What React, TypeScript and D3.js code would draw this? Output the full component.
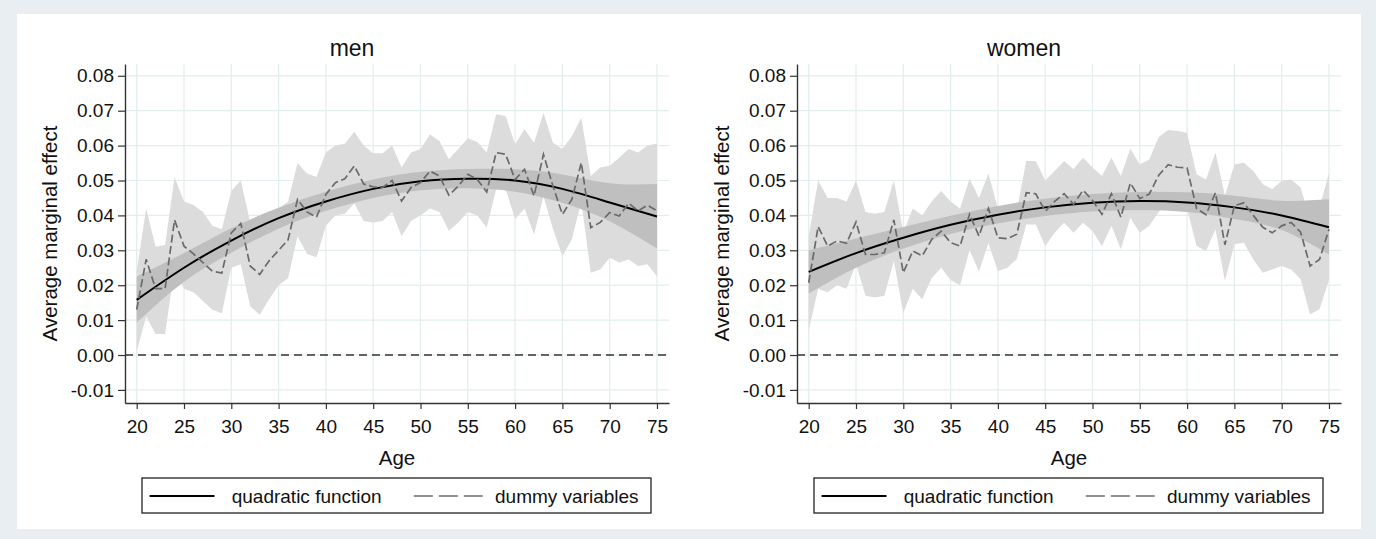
import React, { useRef, useEffect } from 'react';
import * as d3 from 'd3';

// ages with a dummy each
const ages = [20, 21, 22, 23, 24, 25, 26, 27, 28, 29, 30, 31, 32, 33, 34, 35, 36, 37, 38, 39,
  40, 41, 42, 43, 44, 45, 46, 47, 48, 49, 50, 51, 52, 53, 54, 55, 56, 57, 58, 59,
  60, 61, 62, 63, 64, 65, 66, 67, 68, 69, 70, 71, 72, 73, 74, 75];

const menDummy = [0.0130, 0.0274, 0.0190, 0.0190, 0.0387, 0.0312, 0.0290, 0.0265, 0.0240, 0.0235,
  0.0350, 0.0377, 0.0255, 0.0231, 0.0270, 0.0300, 0.0330, 0.0446, 0.0410, 0.0395,
  0.0460, 0.0494, 0.0505, 0.0542, 0.0490, 0.0482, 0.0480, 0.0500, 0.0441, 0.0480,
  0.0494, 0.0527, 0.0513, 0.0458, 0.0484, 0.0518, 0.0503, 0.0467, 0.0580, 0.0575,
  0.0503, 0.0532, 0.0456, 0.0575, 0.0484, 0.0403, 0.0446, 0.0551, 0.0365, 0.0380,
  0.0408, 0.0398, 0.0435, 0.0413, 0.0429, 0.0413];
const menDummyLo = [0.0010, 0.0110, 0.0060, 0.0060, 0.0250, 0.0190, 0.0180, 0.0155, 0.0130, 0.0120,
  0.0250, 0.0260, 0.0140, 0.0115, 0.0160, 0.0200, 0.0220, 0.0340, 0.0290, 0.0280,
  0.0370, 0.0400, 0.0405, 0.0435, 0.0384, 0.0380, 0.0384, 0.0410, 0.0340, 0.0384,
  0.0400, 0.0420, 0.0410, 0.0356, 0.0380, 0.0410, 0.0400, 0.0365, 0.0475, 0.0475,
  0.0390, 0.0420, 0.0345, 0.0455, 0.0362, 0.0284, 0.0331, 0.0440, 0.0236, 0.0245,
  0.0279, 0.0265, 0.0274, 0.0255, 0.0260, 0.0225];
const menDummyHi = [0.0240, 0.0420, 0.0310, 0.0315, 0.0510, 0.0440, 0.0430, 0.0410, 0.0370, 0.0360,
  0.0470, 0.0500, 0.0380, 0.0350, 0.0380, 0.0420, 0.0440, 0.0550, 0.0520, 0.0510,
  0.0580, 0.0600, 0.0605, 0.0640, 0.0600, 0.0578, 0.0578, 0.0600, 0.0537, 0.0580,
  0.0590, 0.0632, 0.0613, 0.0561, 0.0590, 0.0621, 0.0610, 0.0580, 0.0690, 0.0685,
  0.0604, 0.0647, 0.0608, 0.0694, 0.0608, 0.0590, 0.0627, 0.0680, 0.0513, 0.0537,
  0.0542, 0.0565, 0.0590, 0.0580, 0.0600, 0.0606];

const womenDummy = [0.0207, 0.0368, 0.0312, 0.0327, 0.0320, 0.0381, 0.0288, 0.0288, 0.0293, 0.0387,
  0.0236, 0.0298, 0.0284, 0.0331, 0.0355, 0.0322, 0.0312, 0.0403, 0.0341, 0.0420,
  0.0336, 0.0333, 0.0346, 0.0465, 0.0462, 0.0412, 0.0440, 0.0462, 0.0432, 0.0472,
  0.0443, 0.0403, 0.0462, 0.0395, 0.0493, 0.0448, 0.0461, 0.0515, 0.0545, 0.0538,
  0.0536, 0.0420, 0.0402, 0.0465, 0.0316, 0.0428, 0.0436, 0.0400, 0.0366, 0.0350,
  0.0370, 0.0380, 0.0352, 0.0255, 0.0274, 0.0360];
const womenDummyLo = [0.0070, 0.0190, 0.0180, 0.0200, 0.0190, 0.0260, 0.0170, 0.0165, 0.0170, 0.0270,
  0.0120, 0.0190, 0.0160, 0.0220, 0.0250, 0.0215, 0.0200, 0.0300, 0.0240, 0.0320,
  0.0241, 0.0250, 0.0275, 0.0374, 0.0374, 0.0312, 0.0350, 0.0379, 0.0350, 0.0379,
  0.0355, 0.0312, 0.0370, 0.0303, 0.0393, 0.0350, 0.0370, 0.0410, 0.0445, 0.0435,
  0.0420, 0.0312, 0.0298, 0.0360, 0.0212, 0.0317, 0.0322, 0.0274, 0.0236, 0.0245,
  0.0255, 0.0245, 0.0217, 0.0117, 0.0131, 0.0215];
const womenDummyHi = [0.0340, 0.0500, 0.0450, 0.0450, 0.0440, 0.0500, 0.0410, 0.0405, 0.0410, 0.0500,
  0.0350, 0.0420, 0.0400, 0.0440, 0.0470, 0.0440, 0.0420, 0.0505, 0.0450, 0.0520,
  0.0420, 0.0405, 0.0415, 0.0556, 0.0556, 0.0500, 0.0527, 0.0556, 0.0532, 0.0565,
  0.0537, 0.0513, 0.0565, 0.0513, 0.0591, 0.0546, 0.0560, 0.0625, 0.0645, 0.0642,
  0.0637, 0.0518, 0.0503, 0.0580, 0.0456, 0.0546, 0.0551, 0.0527, 0.0489, 0.0475,
  0.0499, 0.0503, 0.0480, 0.0390, 0.0422, 0.0522];

// quadratic fit, read every 5 years
const quadAges = [20, 25, 30, 35, 40, 45, 50, 55, 60, 65, 70, 75];
const menQuad = [0.0158, 0.0250, 0.0328, 0.0392, 0.0440, 0.0476, 0.0498, 0.0505, 0.0500, 0.0476, 0.0437, 0.0397];
const menQuadLo = [0.0093, 0.0210, 0.0293, 0.0362, 0.0413, 0.0450, 0.0472, 0.0478, 0.0468, 0.0436, 0.0383, 0.0305];
const menQuadHi = [0.0225, 0.0292, 0.0363, 0.0422, 0.0468, 0.0503, 0.0525, 0.0533, 0.0532, 0.0517, 0.0492, 0.0490];
const womenQuad = [0.0238, 0.0292, 0.0336, 0.0373, 0.0402, 0.0423, 0.0436, 0.0441, 0.0437, 0.0423, 0.0400, 0.0366];
const womenQuadLo = [0.0176, 0.0250, 0.0305, 0.0347, 0.0377, 0.0398, 0.0411, 0.0415, 0.0410, 0.0390, 0.0358, 0.0288];
const womenQuadHi = [0.0300, 0.0334, 0.0367, 0.0399, 0.0427, 0.0448, 0.0461, 0.0467, 0.0466, 0.0456, 0.0442, 0.0446];

const xTicks = [20, 25, 30, 35, 40, 45, 50, 55, 60, 65, 70, 75];
const yTicks = [-0.01, 0, 0.01, 0.02, 0.03, 0.04, 0.05, 0.06, 0.07, 0.08];

const panels = [
  { title: 'men', left: 125, dummy: menDummy, lo: menDummyLo, hi: menDummyHi, quad: menQuad, qlo: menQuadLo, qhi: menQuadHi },
  { title: 'women', left: 797, dummy: womenDummy, lo: womenDummyLo, hi: womenDummyHi, quad: womenQuad, qlo: womenQuadLo, qhi: womenQuadHi }
];

const FONT = "'Liberation Sans', Arial, sans-serif";

const App = () => {

  const ref = useRef(null);

  useEffect(() => {

    var svg = d3.select(ref.current);
    svg.selectAll('*').remove();

    var W = 1376, H = 539;
    var pw = 544, top = 64, bottom = 403;

    svg.append('rect').attr('width', W).attr('height', H).attr('fill', '#e8eef1');
    svg.append('rect').attr('x', 17).attr('y', 14).attr('width', 1344).attr('height', 515).attr('fill', '#ffffff');

    var x = d3.scaleLinear().domain([18.763, 76.27]).range([0, pw]);
    var y = d3.scaleLinear().domain([-0.01375, 0.08338]).range([bottom, top]);

    panels.forEach(function(p) {

      var g = svg.append('g').attr('transform', 'translate(' + p.left + ',0)');

      // grid
      g.selectAll('line.vgrid').data(xTicks).enter().append('line')
        .attr('x1', d => x(d)).attr('x2', d => x(d))
        .attr('y1', top).attr('y2', bottom)
        .attr('stroke', '#e2eded').attr('stroke-width', 1.2);
      g.selectAll('line.hgrid').data(yTicks).enter().append('line')
        .attr('x1', 0).attr('x2', pw)
        .attr('y1', d => y(d)).attr('y2', d => y(d))
        .attr('stroke', '#e2eded').attr('stroke-width', 1.2);

      // dummy CI
      var dummyRows = ages.map((a, i) => ({ a: a, v: p.dummy[i], lo: p.lo[i], hi: p.hi[i] }));
      var quadRows = quadAges.map((a, i) => ({ a: a, v: p.quad[i], lo: p.qlo[i], hi: p.qhi[i] }));

      g.append('path')
        .attr('d', d3.area().x(d => x(d.a)).y0(d => y(d.lo)).y1(d => y(d.hi))(dummyRows))
        .attr('fill', '#dcdcdc');

      g.append('path')
        .attr('d', d3.area().curve(d3.curveNatural).x(d => x(d.a)).y0(d => y(d.lo)).y1(d => y(d.hi))(quadRows))
        .attr('fill', '#bfbfbf');

      // zero line
      g.append('line')
        .attr('x1', 0).attr('x2', pw).attr('y1', y(0)).attr('y2', y(0))
        .attr('stroke', '#333').attr('stroke-width', 1.5).attr('stroke-dasharray', '8,5');

      g.append('path')
        .attr('d', d3.line().curve(d3.curveNatural).x(d => x(d.a)).y(d => y(d.v))(quadRows))
        .attr('fill', 'none').attr('stroke', '#000').attr('stroke-width', 2);

      g.append('path')
        .attr('d', d3.line().x(d => x(d.a)).y(d => y(d.v))(dummyRows))
        .attr('fill', 'none').attr('stroke', '#6a6a6a').attr('stroke-width', 1.7)
        .attr('stroke-dasharray', '8,3.5');

      // axes
      var ya = g.append('g')
        .call(d3.axisLeft(y).tickValues(yTicks).tickFormat(d => d.toFixed(2)).tickSize(7).tickSizeOuter(0).tickPadding(4));
      var xa = g.append('g').attr('transform', 'translate(0,' + bottom + ')')
        .call(d3.axisBottom(x).tickValues(xTicks).tickSize(6).tickSizeOuter(0).tickPadding(11));

      [ya, xa].forEach(function(ax) {
        ax.select('.domain').attr('stroke', '#333').attr('stroke-width', 1.4);
        ax.selectAll('.tick line').attr('stroke', '#333').attr('stroke-width', 1.2);
        ax.selectAll('.tick text').attr('fill', '#111').style('font-family', FONT).style('font-size', '19px');
      });

      // titles
      g.append('text')
        .attr('x', 227).attr('y', 56).attr('text-anchor', 'middle')
        .style('font-family', FONT).style('font-size', '23px').attr('fill', '#111')
        .text(p.title);

      g.append('text')
        .attr('transform', 'translate(-68,' + (top + bottom) / 2 + ') rotate(-90)')
        .attr('text-anchor', 'middle')
        .style('font-family', FONT).style('font-size', '20.5px').attr('fill', '#111')
        .text('Average marginal effect');

      g.append('text')
        .attr('x', pw / 2).attr('y', 465).attr('text-anchor', 'middle')
        .style('font-family', FONT).style('font-size', '20.5px').attr('fill', '#111')
        .text('Age');

      // legend
      var lg = g.append('g');
      lg.append('rect').attr('x', 17).attr('y', 478).attr('width', 509).attr('height', 35)
        .attr('fill', '#fff').attr('stroke', '#222').attr('stroke-width', 1.3);
      lg.append('line').attr('x1', 24.6).attr('x2', 89.5).attr('y1', 496).attr('y2', 496)
        .attr('stroke', '#000').attr('stroke-width', 2);
      lg.append('text').attr('x', 106.7).attr('y', 502.5)
        .style('font-family', FONT).style('font-size', '19px').attr('fill', '#111')
        .text('quadratic function');
      lg.append('line').attr('x1', 288.8).attr('x2', 357.7).attr('y1', 496).attr('y2', 496)
        .attr('stroke', '#6a6a6a').attr('stroke-width', 1.7).attr('stroke-dasharray', '19,6');
      lg.append('text').attr('x', 370).attr('y', 502.5)
        .style('font-family', FONT).style('font-size', '19px').attr('fill', '#111')
        .text('dummy variables');
    });

  }, []);

  return (
    <svg ref={ref} width={1376} height={539}
      style={{ position: 'absolute', left: 0, top: 0, display: 'block' }} />
  );
}

export default App
